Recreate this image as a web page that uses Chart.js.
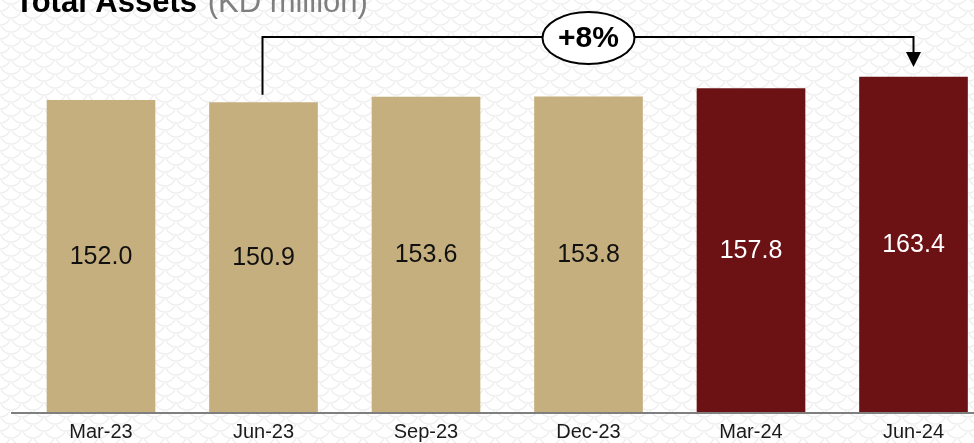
<!DOCTYPE html>
<html>
<head>
<meta charset="utf-8">
<script src="https://cdn.jsdelivr.net/npm/chart.js@4/dist/chart.umd.min.js"></script>
<style>
  html, body { margin: 0; padding: 0; background: #ffffff; overflow: hidden; }
  #wrap { width: 974px; height: 443px; position: relative; }
</style>
</head>
<body>
<div id="wrap"><canvas id="c" width="974" height="443"></canvas></div>
<script>
// ---- data ----
const categories = ['Mar-23', 'Jun-23', 'Sep-23', 'Dec-23', 'Mar-24', 'Jun-24'];
const totalAssets = [152.0, 150.9, 153.6, 153.8, 157.8, 163.4];
const titleBold = 'Total Assets';
const titleUnit = '(KD million)';
const growthLabel = '+8%';
const growthFrom = 1;  // index Jun-23
const growthTo = 5;    // index Jun-24

// ---- styles ----
const TAN = '#C6AF7E';
const RED = '#6C1214';
const FONT = "Arial, 'Liberation Sans', sans-serif";
const barColors = categories.map((c, i) => i >= 4 ? RED : TAN);
const labelColors = categories.map((c, i) => i >= 4 ? '#ffffff' : '#111111');

function makePattern(ctx) {
  const t = document.createElement('canvas');
  t.width = 22; t.height = 14;
  const g = t.getContext('2d');
  g.fillStyle = '#ffffff';
  g.fillRect(0, 0, 22, 14);
  g.strokeStyle = '#efefef';
  g.lineWidth = 1.5;
  const arcs = [[0, 0], [22, 0], [11, 7], [0, 14], [22, 14], [11, -7]];
  arcs.forEach(([x, y]) => {
    g.beginPath();
    g.arc(x, y, 11, 0.15 * Math.PI, 0.85 * Math.PI);
    g.stroke();
  });
  return ctx.createPattern(t, 'repeat');
}

const bgPlugin = {
  id: 'bg',
  beforeDraw(chart) {
    const ctx = chart.ctx;
    ctx.save();
    ctx.fillStyle = makePattern(ctx);
    ctx.fillRect(0, 0, chart.width, chart.height);
    ctx.restore();
  }
};

const decoPlugin = {
  id: 'deco',
  afterDatasetsDraw(chart) {
    const ctx = chart.ctx;
    const meta = chart.getDatasetMeta(0);
    const yScale = chart.scales.y;
    const xScale = chart.scales.x;
    ctx.save();

    // baseline
    const y0 = yScale.getPixelForValue(0);
    ctx.strokeStyle = '#7f7f7f';
    ctx.lineWidth = 2;
    ctx.beginPath();
    ctx.moveTo(xScale.getPixelForValue(0) - 90, y0 + 1);
    ctx.lineTo(chart.width, y0 + 1);
    ctx.stroke();

    // value labels
    ctx.font = '25px ' + FONT;
    ctx.textAlign = 'center';
    ctx.textBaseline = 'middle';
    meta.data.forEach((bar, i) => {
      ctx.fillStyle = labelColors[i];
      ctx.fillText(totalAssets[i].toFixed(1), bar.x, (bar.y + bar.base) / 2 + 1);
    });

    // growth bracket
    const a = meta.data[growthFrom];
    const b = meta.data[growthTo];
    const lineY = 37;
    ctx.strokeStyle = '#000000';
    ctx.lineWidth = 2;
    ctx.beginPath();
    ctx.moveTo(a.x - 1, a.y - 8);
    ctx.lineTo(a.x - 1, lineY);
    ctx.lineTo(b.x, lineY);
    ctx.lineTo(b.x, b.y - 22);
    ctx.stroke();
    ctx.fillStyle = '#000000';
    ctx.beginPath();
    ctx.moveTo(b.x - 7.5, b.y - 25);
    ctx.lineTo(b.x + 7.5, b.y - 25);
    ctx.lineTo(b.x, b.y - 10);
    ctx.closePath();
    ctx.fill();

    const cx = (a.x + b.x) / 2;
    ctx.beginPath();
    ctx.ellipse(cx, lineY + 1, 46, 26, 0, 0, Math.PI * 2);
    ctx.fillStyle = '#ffffff';
    ctx.fill();
    ctx.lineWidth = 2;
    ctx.stroke();
    ctx.fillStyle = '#000000';
    ctx.font = 'bold 30px ' + FONT;
    ctx.fillText(growthLabel, cx, lineY + 2);

    // title
    ctx.textAlign = 'left';
    ctx.textBaseline = 'alphabetic';
    ctx.font = 'bold 31px ' + FONT;
    ctx.fillStyle = '#000000';
    ctx.fillText(titleBold, 15, 12);
    const w = ctx.measureText(titleBold + ' ').width;
    ctx.font = '31px ' + FONT;
    ctx.fillStyle = '#7f7f7f';
    ctx.fillText(titleUnit, 15 + w + 2, 12);

    ctx.restore();
  }
};

new Chart(document.getElementById('c'), {
  type: 'bar',
  data: {
    labels: categories,
    datasets: [{
      data: totalAssets,
      backgroundColor: barColors,
      borderWidth: 0,
      barThickness: 108,
      clip: false
    }]
  },
  options: {
    responsive: false,
    animation: false,
    devicePixelRatio: 1,
    layout: { padding: { left: 101, right: 60.5, top: 2, bottom: 0 } },
    plugins: { legend: { display: false }, tooltip: { enabled: false }, title: { display: false } },
    scales: {
      x: {
        offset: false,
        grid: { display: false, drawTicks: false },
        border: { display: false },
        ticks: { color: '#1a1a1a', font: { size: 20, family: FONT }, padding: 8, maxRotation: 0, autoSkip: false },
        afterFit(scale) { scale.height = 31; }
      },
      y: {
        display: false,
        min: 0,
        max: 200
      }
    }
  },
  plugins: [bgPlugin, decoPlugin]
});
</script>
</body>
</html>
